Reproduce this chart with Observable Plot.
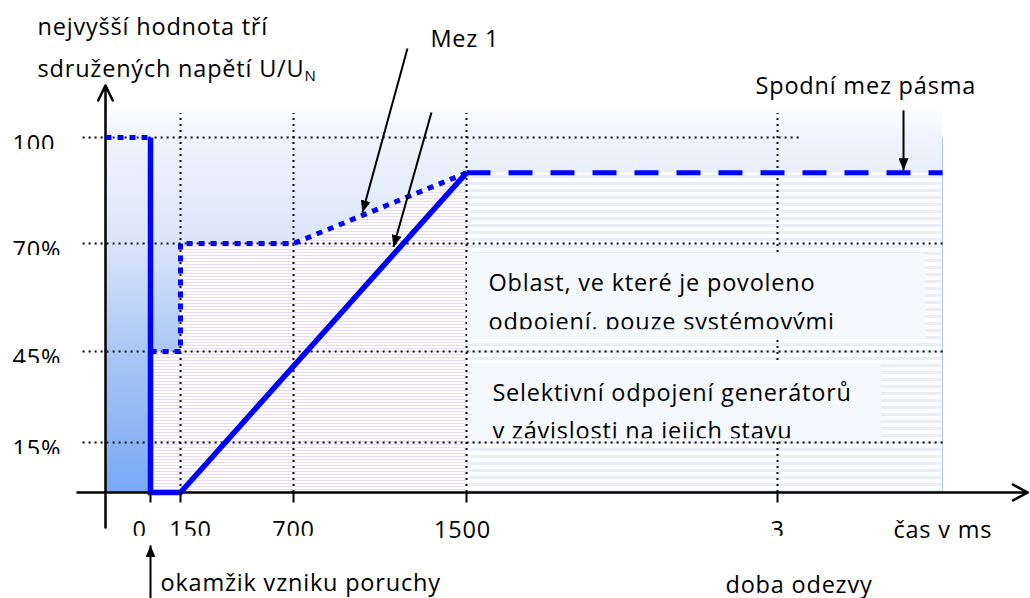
<!DOCTYPE html>
<html><head><meta charset="utf-8">
<script src="https://cdn.jsdelivr.net/npm/d3@7"></script>
<script src="https://cdn.jsdelivr.net/npm/@observablehq/plot@0.6"></script>
<style>
html,body{margin:0;padding:0;background:#fff;}
#chart svg{display:block;}
</style></head><body><div id="chart"></div>
<script>
// ---------------- data ----------------
const yTicks = [100, 70, 45, 15];
const yTickLabels = ["100", "70%", "45%", "15%"];
const yGridEnd = [3110, 3830, 3830, 3830];
const xTicks = [0, 150, 700, 1500, 3000];
const xTickLabels = ["0", "150", "700", "1500", "3"];
const xTickClipped = [true, true, true, false, true];
const xGrid = [150, 700, 1500, 3000];

// Mez 2 (solid) and the dashed lower band limit
const limitSolid = [{t: 0, u: 100}, {t: 0, u: 0}, {t: 150, u: 0}, {t: 1500, u: 90}];
const limitDashed = [{t: 1500, u: 90}, {t: 3800, u: 90}];
// Mez 1 (dotted)
const mez1Pre = [{t: -300, u: 100}, {t: 0, u: 100}];
const mez1 = [{t: 0, u: 45}, {t: 150, u: 45}, {t: 150, u: 70}, {t: 700, u: 70}, {t: 1500, u: 90}];

// texts
const titleLines = ["nejvyšší hodnota tří", "sdružených napětí U/U"];
const titleSub = "N";
const regionLines1 = ["Oblast, ve které je povoleno", "Selektivní odpojení generátorů"];
const regionLines2 = ["odpojení, pouze systémovými", "v závislosti na jejich stavu"];
const labels = ["Mez 1", "Spodní mez pásma", "okamžik vzniku poruchy", "doba odezvy", "čas v ms"];

// ---------------- layout (schematic, piecewise scales) ----------------
const xDomain = [-450, -300, 0, 150, 700, 1500, 3000, 3800, 4700];
const xRange  = [77, 105, 150, 180, 293, 466, 777, 942, 1030];
const yDomain = [-10, 0, 15, 45, 70, 100, 107, 115];
const yRange  = [527, 492, 442, 351, 243, 137, 113, 85];

const titlePos = [{t: -664, u: 129.3}, {t: -664, u: 117.3}];
const regionPos1 = [{t: 1606, u: 58.9}, {t: 1625, u: 28.8}];
const regionPos2 = [{t: 1606, u: 49.9}, {t: 1625, u: 16.1}];
const labelPos = [{t: 1333, u: 125.9}, {t: 2894, u: 112.7}, {t: 50, u: -28}, {t: 2749, u: -28.6}, {t: 3562, u: -13.1}];
const regionBoxes = [{x1: 1505, x2: 3718, y1: 47.8, y2: 67.7}, {x1: 1529, x2: 3504, y1: 15.7, y2: 41}];
const annotArrows = [
  {x1: 1227, y1: 125.6, x2: 1019, y2: 78.8},
  {x1: 1338, y1: 107.3, x2: 1162, y2: 69.2},
  {x1: 3611, y1: 107.9, x2: 3611, y2: 90.7},
  {x1: 0, y1: -36, x2: 0, y2: -15.1}
];
const xNudge = [-11, 10, 0, -4, 0];

const rows = (vals, f) => vals.map((v, i) => f(v, i));
const blue = "#0000ff";

const plot = Plot.plot({
  width: 1030, height: 598, margin: 0,
  x: {type: "linear", domain: xDomain, range: xRange, axis: null},
  y: {type: "linear", domain: yDomain, range: yRange, axis: null},
  style: {fontFamily: "'Open Sans', sans-serif", fontSize: "23.5px", letterSpacing: "0.8px", background: "#fff", color: "#000", overflow: "visible"},
  marks: [
    // background gradient area
    Plot.rect([{x1: -300, x2: 3800, y1: 0, y2: 108.4}], {x1: "x1", x2: "x2", y1: "y1", y2: "y2", fill: "url(#bgGrad)"}),
    // region under Mez 1
    Plot.areaY(mez1, {x: "t", y1: 0, y2: "u", fill: "url(#pinkStripes)", curve: "linear"}),
    // region right of 1500
    Plot.rect([{x1: 1500, x2: 3800, y1: 0, y2: 90}], {x1: "x1", x2: "x2", y1: "y1", y2: "y2", fill: "url(#grayStripes)"}),
    Plot.ruleX([3800], {y1: 0, y2: 99.7, stroke: "#a9c8f2", strokeWidth: 1}),
    // grid
    Plot.ruleY(rows(yTicks, (u, i) => ({u, end: yGridEnd[i]})), {y: "u", x1: -420, x2: "end", stroke: "#000", strokeWidth: 2, strokeDasharray: "2 4"}),
    Plot.ruleX(xGrid, {x: d => d, y1: 0, y2: 107, stroke: "#000", strokeWidth: 2, strokeDasharray: "2 4"}),
    // text boxes
    Plot.rect(regionBoxes, {x1: "x1", x2: "x2", y1: "y1", y2: "y2", fill: "#f5f8fd"}),
    // axes
    Plot.arrow([{x1: -450, y1: 0, x2: 4672, y2: 0}], {x1: "x1", y1: "y1", x2: "x2", y2: "y2", stroke: "#000", strokeWidth: 2.5, headLength: 10, headAngle: 56}),
    Plot.arrow([{x1: -300, y1: -10, x2: -300, y2: 115}], {x1: "x1", y1: "y1", x2: "x2", y2: "y2", stroke: "#000", strokeWidth: 2.5, headLength: 10, headAngle: 52}),
    // limit curves
    Plot.line(limitSolid, {x: "t", y: "u", stroke: blue, strokeWidth: 5.5, strokeLinejoin: "miter", strokeLinecap: "butt", strokeMiterlimit: 4}),
    Plot.line(limitDashed, {x: "t", y: "u", stroke: blue, strokeWidth: 5, strokeDasharray: "24 18", strokeLinecap: "butt"}),
    Plot.line(mez1Pre, {x: "t", y: "u", stroke: blue, strokeWidth: 5, strokeDasharray: "6 6", strokeLinecap: "butt"}),
    Plot.line(mez1, {x: "t", y: "u", stroke: blue, strokeWidth: 5, strokeDasharray: "6 6", strokeLinecap: "butt", strokeLinejoin: "miter"}),
    // x ticks
    Plot.ruleX(xTicks, {x: d => d, y1: 0, y2: -3, stroke: "#000", strokeWidth: 2}),
    // annotation arrows
    Plot.link(annotArrows, {x1: "x1", y1: "y1", x2: "x2", y2: "y2", stroke: "#000", strokeWidth: 2, ariaDescription: "annot-arrow"}),
    // tick labels
    Plot.text(rows(yTickLabels, (text, i) => ({text, u: yTicks[i]})), {x: -798, y: "u", text: "text", textAnchor: "start", lineAnchor: "bottom", dy: 14, fill: "#000", ariaDescription: "clip-tick"}),
    Plot.text(rows(xTickLabels, (text, i) => ({text, t: xTicks[i]})),
      {x: "t", y: -13.1, text: "text", textAnchor: "middle", lineAnchor: "bottom", fill: "#000", ariaDescription: "x-tick-label"}),
    // titles and labels
    Plot.text(rows(titleLines, (text, i) => ({text, ...titlePos[i]})), {x: "t", y: "u", text: "text", textAnchor: "start", lineAnchor: "bottom", fill: "#000", ariaDescription: "y-title"}),
    Plot.text(rows(regionLines1, (text, i) => ({text, ...regionPos1[i]})), {x: "t", y: "u", text: "text", textAnchor: "start", lineAnchor: "bottom", fill: "#000"}),
    Plot.text(rows(regionLines2, (text, i) => ({text, ...regionPos2[i]})), {x: "t", y: "u", text: "text", textAnchor: "start", lineAnchor: "bottom", fill: "#000", ariaDescription: "region-line2"}),
    Plot.text(rows(labels, (text, i) => ({text, ...labelPos[i]})), {x: "t", y: "u", text: "text", textAnchor: "start", lineAnchor: "bottom", fill: "#000"})
  ]
});

// ---------------- post-processing: defs, markers, clips ----------------
const svg = d3.select(plot);
const defs = svg.insert("defs", ":first-child");
const grad = defs.append("linearGradient").attr("id", "bgGrad").attr("x1", 0).attr("y1", 0).attr("x2", 0).attr("y2", 1);
[[0, "#fdfdff"], [0.08, "#eff3fd"], [0.35, "#dbe5f9"], [0.63, "#abc7f5"], [1, "#78a9f4"]]
  .forEach(([o, c]) => grad.append("stop").attr("offset", o).attr("stop-color", c));
const pink = defs.append("pattern").attr("id", "pinkStripes").attr("patternUnits", "userSpaceOnUse").attr("width", 8).attr("height", 3);
pink.append("rect").attr("width", 8).attr("height", 3).attr("fill", "#fcfbfe");
pink.append("rect").attr("width", 8).attr("height", 1).attr("fill", "#e7ddf2");
const gray = defs.append("pattern").attr("id", "grayStripes").attr("patternUnits", "userSpaceOnUse").attr("width", 8).attr("height", 7);
gray.append("rect").attr("width", 8).attr("height", 7).attr("fill", "#fdfeff");
gray.append("rect").attr("width", 8).attr("height", 3).attr("fill", "#eaeff7");
const tri = defs.append("marker").attr("id", "tri").attr("viewBox", "0 0 12 10").attr("refX", 12).attr("refY", 5)
  .attr("markerWidth", 12).attr("markerHeight", 10).attr("markerUnits", "userSpaceOnUse").attr("orient", "auto");
tri.append("path").attr("d", "M0,0L12,5L0,10Z").attr("fill", "#000");

const byDesc = (desc, sel) => svg.selectAll(`g[aria-description="${desc}"] ${sel}`);
byDesc("annot-arrow", "path").attr("marker-end", "url(#tri)");

function clipDef(id, bottom) {
  defs.append("clipPath").attr("id", id).append("rect").attr("x", -400).attr("y", -100).attr("width", 800).attr("height", 100 + bottom);
}
clipDef("clipTick", -2.5);
clipDef("clipL1", -1);
clipDef("clipL2", -1);
byDesc("clip-tick", "text").attr("clip-path", "url(#clipTick)");
byDesc("x-tick-label", "text").each(function(d, i) {
  const tr = this.getAttribute("transform") || "";
  this.setAttribute("transform", tr + ` translate(${xNudge[i]},0)`);
  if (xTickClipped[i]) this.setAttribute("clip-path", "url(#clipTick)");
});
byDesc("region-line2", "text").each(function(d, i) {
  this.setAttribute("clip-path", i === 0 ? "url(#clipL1)" : "url(#clipL2)");
});
// subscript N
const titleTexts = byDesc("y-title", "text").nodes();
if (titleTexts[1]) d3.select(titleTexts[1]).append("tspan").attr("font-size", "15px").attr("dy", 4).text(titleSub);

document.getElementById("chart").appendChild(plot);
</script>
</body></html>
